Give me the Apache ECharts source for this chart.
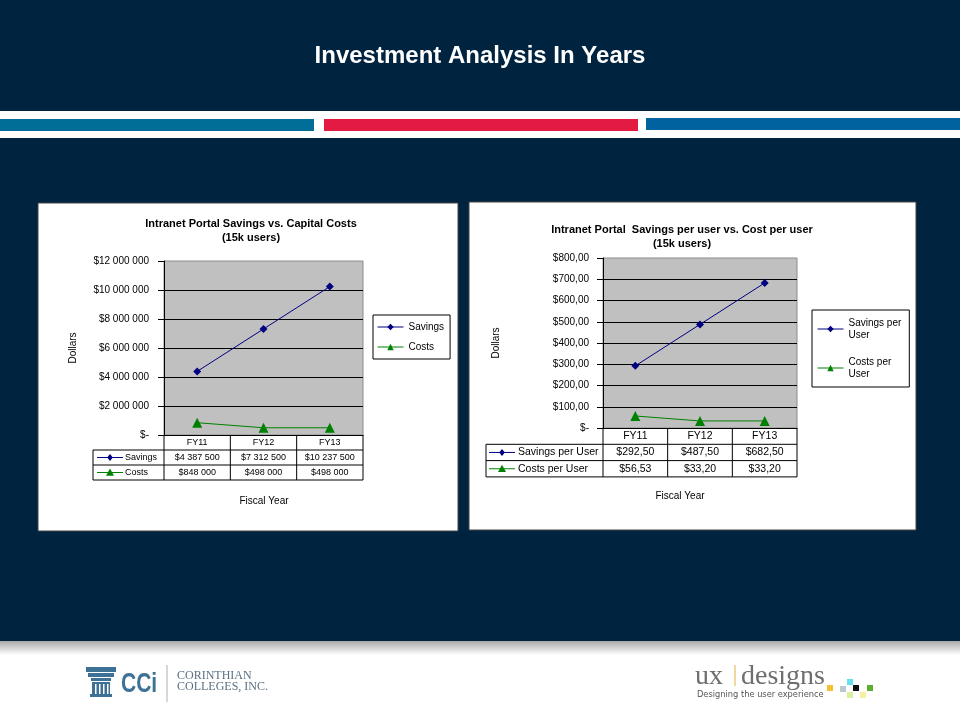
<!DOCTYPE html>
<html><head><meta charset="utf-8">
<script src="https://cdn.jsdelivr.net/npm/echarts@6/dist/echarts.min.js"></script>
<style>html,body{margin:0;padding:0;background:#00233f}#c{width:960px;height:720px}</style>
</head><body><div id="c"></div>
<script>
// ---- data ----
const categories = ['FY11', 'FY12', 'FY13'];
const savings = [4387500, 7312500, 10237500];
const costs = [848000, 498000, 498000];
const savingsPerUser = [292.50, 487.50, 682.50];
const costsPerUser = [56.53, 33.20, 33.20];
const leftSeriesNames = ['Savings', 'Costs'];
const rightSeriesNames = ['Savings per User', 'Costs per User'];
const pageTitle = 'Investment Analysis In Years';
const leftTitle = 'Intranet Portal Savings vs. Capital Costs\n(15k users)';
const rightTitle = 'Intranet Portal  Savings per user vs. Cost per user\n(15k users)';

const FONT = '"Liberation Sans", Arial, sans-serif';
const NAVY = '#000080', GREEN = '#008000';

function fmtSpace(v) { return v === 0 ? '$-' : '$' + String(v).replace(/\B(?=(\d{3})+(?!\d))/g, ' '); }
function fmtComma(v) { return v === 0 ? '$-' : '$' + v.toFixed(2).replace('.', ','); }

const chart = echarts.init(document.getElementById('c'), null, { renderer: 'canvas' });

const G0 = { left: 164, top: 261, width: 199, height: 174 };
const G1 = { left: 603, top: 258, width: 194, height: 170 };

function yAxis(gi, max, interval, fmt, nameGap, margin) {
  return {
    type: 'value', gridIndex: gi, min: 0, max: max, interval: interval,
    name: 'Dollars', nameLocation: 'middle', nameRotate: 90, nameGap: nameGap,
    nameTextStyle: { fontFamily: FONT, fontSize: 10, color: '#000' },
    axisLine: { show: true, lineStyle: { color: '#000', width: 1 } },
    axisTick: { show: true, length: 6, lineStyle: { color: '#000' } },
    axisLabel: { formatter: fmt, fontFamily: FONT, fontSize: 10, color: '#000', margin: margin },
    splitLine: { show: true, showMaxLine: false, lineStyle: { color: '#000', width: 1 } }
  };
}
function xAxis(gi) {
  return {
    type: 'category', gridIndex: gi, data: categories, boundaryGap: true,
    axisLine: { show: true, lineStyle: { color: '#000', width: 1 } },
    axisTick: { show: false }, axisLabel: { show: false }, splitLine: { show: false }
  };
}
function lineSeries(name, xi, data, sym, color, size) {
  return {
    type: 'line', name: name, xAxisIndex: xi, yAxisIndex: xi, data: data,
    symbol: sym, symbolSize: size, showSymbol: true, animation: false,
    lineStyle: { color: color, width: 1 }, itemStyle: { color: color }
  };
}

chart.setOption({
  animation: false,
  grid: [
    Object.assign({ show: true, backgroundColor: '#c0c0c0', borderWidth: 1, borderColor: '#8c8c8c' }, G0),
    Object.assign({ show: true, backgroundColor: '#c0c0c0', borderWidth: 1, borderColor: '#8c8c8c' }, G1)
  ],
  xAxis: [xAxis(0), xAxis(1)],
  yAxis: [yAxis(0, 12000000, 2000000, fmtSpace, 86, 15), yAxis(1, 800, 100, fmtComma, 102, 14)],
  legend: [
    {
      data: leftSeriesNames, orient: 'vertical', left: 373, top: 315,
      backgroundColor: '#fff', borderColor: '#000', borderWidth: 1,
      padding: [7, 6, 7, 4], itemWidth: 26, itemHeight: 8, itemGap: 10,
      lineStyle: { width: 1 },
      textStyle: { fontFamily: FONT, fontSize: 10, color: '#000' }
    },
    {
      data: rightSeriesNames, orient: 'vertical', left: 812, top: 310,
      backgroundColor: '#fff', borderColor: '#000', borderWidth: 1,
      padding: [7, 8, 7, 5], itemWidth: 26, itemHeight: 8, itemGap: 15,
      lineStyle: { width: 1 },
      formatter: function (n) { return n.replace(' User', '\nUser'); },
      textStyle: { fontFamily: FONT, fontSize: 10, color: '#000', lineHeight: 12 }
    }
  ],
  series: [
    lineSeries(leftSeriesNames[0], 0, savings, 'diamond', NAVY, 8),
    lineSeries(leftSeriesNames[1], 0, costs, 'triangle', GREEN, 10),
    lineSeries(rightSeriesNames[0], 1, savingsPerUser, 'diamond', NAVY, 8),
    lineSeries(rightSeriesNames[1], 1, costsPerUser, 'triangle', GREEN, 10)
  ]
});

// ---- build graphics (tables, panels, decorations) ----
const gfx = [];
function rect(x, y, w, h, style, z) { gfx.push({ type: 'rect', shape: { x: x, y: y, width: w, height: h }, style: style, z: z === undefined ? -10 : z, silent: true }); }
function line(x1, y1, x2, y2, color, w, z) { gfx.push({ type: 'line', shape: { x1: x1, y1: y1, x2: x2, y2: y2 }, style: { stroke: color, lineWidth: w || 1 }, z: z === undefined ? 5 : z, silent: true }); }
function text(x, y, t, font, color, align, z, sx) {
  gfx.push({ type: 'text', x: x, y: y, scaleX: sx || 1, style: { text: t, font: font, fill: color, align: align || 'center', verticalAlign: 'middle', lineHeight: 14 }, z: z === undefined ? 5 : z, silent: true });
}
function marker(cx, cy, kind, color, s) {
  const pts = kind === 'diamond'
    ? [[cx, cy - s], [cx + s * 0.8, cy], [cx, cy + s], [cx - s * 0.8, cy]]
    : [[cx, cy - s], [cx + s, cy + s * 0.8], [cx - s, cy + s * 0.8]];
  gfx.push({ type: 'polygon', shape: { points: pts }, style: { fill: color }, z: 6, silent: true });
}

// page background + header stripes
rect(0, 0, 960, 720, { fill: '#00233f' }, -20);
rect(0, 111, 960, 27, { fill: '#ffffff' }, -19);
rect(0, 119, 314, 12, { fill: '#006e96' }, -18);
rect(324, 119, 314, 12, { fill: '#e31a42' }, -18);
rect(646, 118, 314, 12, { fill: '#0063a0' }, -18);
text(480, 56, pageTitle, 'bold 24px ' + FONT, '#ffffff', 'center', 5);

// footer
rect(0, 641, 960, 79, { fill: '#ffffff' }, -19);
rect(0, 641, 960, 14, { fill: new echarts.graphic.LinearGradient(0, 0, 0, 1, [{ offset: 0, color: '#a8a8a8' }, { offset: 1, color: '#ffffff' }]) }, -18);

// panels
rect(38, 203, 420, 328, { fill: '#ffffff', stroke: '#444', lineWidth: 1 }, -10);
rect(469, 202, 447, 328, { fill: '#ffffff', stroke: '#444', lineWidth: 1 }, -10);

text(251, 231, leftTitle, 'bold 11px ' + FONT, '#000', 'center');
text(682, 237, rightTitle, 'bold 11px ' + FONT, '#000', 'center');

function buildTable(xi, G, tableLeft, rowH, names, rows, fmt, fontSize, iconStart, textStart) {
  const centers = categories.map(function (c) { return chart.convertToPixel({ xAxisIndex: xi }, c); });
  const half = (centers[1] - centers[0]) / 2;
  const bounds = [centers[0] - half].concat(centers.map(function (c) { return c + half; }));
  const top = G.top + G.height;
  const right = G.left + G.width;
  const bottom = top + rowH * 3;
  for (let r = 1; r <= 3; r++) line(tableLeft, top + rowH * r, right, top + rowH * r, '#000', 1);
  line(tableLeft, top + rowH, tableLeft, bottom, '#000', 1);
  bounds.forEach(function (b) { line(b, top, b, bottom, '#000', 1); });
  const font = fontSize + 'px ' + FONT;
  categories.forEach(function (c, i) { text(centers[i], top + rowH / 2, c, font, '#000'); });
  const kinds = ['diamond', 'triangle'], cols = [NAVY, GREEN];
  rows.forEach(function (vals, r) {
    const cy = top + rowH * (r + 1.5);
    line(iconStart, cy, iconStart + 26, cy, cols[r], 1);
    marker(iconStart + 13, cy, kinds[r], cols[r], r === 0 ? 3.5 : 4);
    text(textStart, cy, names[r], font, '#000', 'left');
    vals.forEach(function (v, i) { text(centers[i], cy, fmt(v), font, '#000'); });
  });
  return bounds;
}
buildTable(0, G0, 93, 15, leftSeriesNames, [savings, costs], fmtSpace, 9, 97, 125);
buildTable(1, G1, 486, 16.3, rightSeriesNames, [savingsPerUser, costsPerUser], fmtComma, 10.5, 489, 518);

text(264, 501, 'Fiscal Year', '10px ' + FONT, '#000', 'center');
text(680, 496, 'Fiscal Year', '10px ' + FONT, '#000', 'center');

// CCi logo
const LB = '#3d7195';
rect(86, 667, 30, 5, { fill: LB }, 1);
rect(88, 673, 26, 4, { fill: LB }, 1);
rect(91, 678, 20, 3, { fill: LB }, 1);
rect(92, 682, 18, 12, { fill: LB }, 1);
[95, 99, 103, 107].forEach(function (x) { rect(x, 684, 1.5, 10, { fill: '#ffffff' }, 2); });
rect(90, 694, 22, 3, { fill: LB }, 1);
text(121, 684, 'CCi', 'bold 28px ' + FONT, LB, 'left', 1, 0.75);
line(167, 665, 167, 702, '#b0b0b0', 1, 1);
text(177, 676, 'CORINTHIAN', '12px "Liberation Serif", serif', '#5b6f82', 'left', 1);
text(177, 687, 'COLLEGES, INC.', '12px "Liberation Serif", serif', '#5b6f82', 'left', 1);

// ux designs logo
text(695, 677, 'ux', '28px "Liberation Serif", serif', '#6e6e6e', 'left', 1);
line(735, 665, 735, 686, '#e0b040', 1, 1);
text(741, 677, 'designs', '28px "Liberation Serif", serif', '#6e6e6e', 'left', 1);
text(697, 695, 'Designing the user experience', '9.5px "DejaVu Sans", ' + FONT, '#555', 'left', 1, 0.87);
[[827, 685, '#f5c030'], [840, 686, '#b8c8d0'], [847, 679, '#66e0f0'], [853, 685, '#111111'], [867, 685, '#5cb030'], [847, 692, '#d8f0a0'], [860, 692, '#f8f0a0']].forEach(function (s) {
  rect(s[0], s[1], 6, 6, { fill: s[2] }, 1);
});

chart.setOption({ graphic: { elements: gfx } });
</script></body></html>
